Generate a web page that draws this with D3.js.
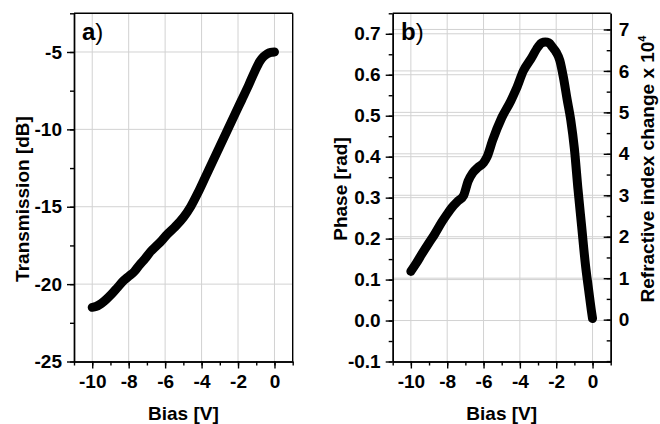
<!DOCTYPE html>
<html lang="en">
<head>
    <meta charset="UTF-8">
    <title>Bias sweep: transmission and phase</title>
    <script src="https://d3js.org/d3.v7.min.js"></script>
    <style>
        body {
            margin: 0;
            background: #ffffff;
        }
        svg text {
            font-family: "Liberation Sans", Arial, sans-serif;
            font-weight: bold;
            fill: #000;
        }
        .tick text {
            font-size: 19px;
        }
        .axis path, .axis line {
            stroke: #000;
            stroke-width: 1.4px;
        }
        .grid line {
            stroke: #d2d2d2;
            stroke-width: 1px;
        }
        .frame {
            stroke: #000;
            stroke-width: 1.4px;
        }
        .curve {
            fill: none;
            stroke: #000;
            stroke-width: 9px;
            stroke-linejoin: round;
            stroke-linecap: round;
        }
    </style>
</head>
<body>
    <svg width="660" height="424"></svg>
    <script>
        // panel a: transmission vs bias
        let biasA = [-10, -9.8, -9.5, -9.2, -8.9, -8.6, -8.3, -8.0, -7.7, -7.4, -7.1, -6.8, -6.5, -6.2, -5.9,
            -5.5, -5.0, -4.6, -4.2, -3.8, -3.4, -3.0, -2.6, -2.2, -1.8, -1.4, -1.1, -0.8, -0.6, -0.4, -0.2, 0];
        let transA = [-21.5, -21.45, -21.25, -20.95, -20.6, -20.2, -19.8, -19.5, -19.2, -18.75, -18.35, -17.9, -17.55, -17.2, -16.8,
            -16.35, -15.7, -15.0, -14.1, -13.1, -12.1, -11.1, -10.1, -9.1, -8.1, -7.1, -6.3, -5.6, -5.3, -5.12, -5.03, -5.0];

        // panel b: phase vs bias
        let biasB = [-10, -9.7, -9.4, -9.0, -8.7, -8.3, -8.0, -7.7, -7.4, -7.1, -6.85, -6.6, -6.3, -6.0, -5.8, -5.5,
            -5.0, -4.5, -4.2, -3.8, -3.4, -3.0, -2.8, -2.6, -2.4, -2.2, -2.0, -1.8, -1.6, -1.4, -1.2, -1.0,
            -0.8, -0.6, -0.4, -0.2, -0.05, 0];
        let phaseB = [0.12, 0.14, 0.162, 0.19, 0.21, 0.24, 0.26, 0.278, 0.292, 0.305, 0.34, 0.36, 0.374, 0.385, 0.40, 0.44,
            0.495, 0.536, 0.565, 0.61, 0.638, 0.668, 0.678, 0.68, 0.678, 0.667, 0.655, 0.635, 0.593, 0.54, 0.49, 0.42,
            0.32, 0.23, 0.14, 0.07, 0.02, 0.005];

        let xTicks = [-10, -8, -6, -4, -2, 0];
        let xMinor = d3.range(-11, 1.5, 1);
        let yTicksA = [-25, -20, -15, -10, -5];
        let yMinorA = d3.range(-25, -2.4, 2.5);
        let yTicksB = [-0.1, 0.0, 0.1, 0.2, 0.3, 0.4, 0.5, 0.6, 0.7];
        let yMinorB = d3.range(-0.1, 0.751, 0.05);
        let rTicksB = [0, 1, 2, 3, 4, 5, 6, 7];
        let rMinorB = d3.range(-1, 7.4, 0.5);

        let svg = d3.select("svg");
        let plotTop = 13.3, plotBottom = 361.5;

        function panel(left, right) {
            let x = d3.scaleLinear().domain([-11, 1]).range([left, right]);
            return x;
        }

        function drawCurve(x, y, xs, ys) {
            let pts = xs.map((v, i) => [v, ys[i]]);
            let line = d3.line().x(d => x(d[0])).y(d => y(d[1])).curve(d3.curveMonotoneX);
            svg.append("path").attr("class", "curve").attr("d", line(pts));
        }

        function bottomAxis(x) {
            svg.append("g").attr("class", "axis")
                .attr("transform", `translate(0,${plotBottom})`)
                .call(d3.axisBottom(x).tickValues(xMinor).tickSize(4).tickSizeOuter(0).tickFormat(""));
            svg.append("g").attr("class", "axis")
                .attr("transform", `translate(0,${plotBottom})`)
                .call(d3.axisBottom(x).tickValues(xTicks).tickSize(7).tickSizeOuter(0).tickPadding(6)
                    .tickFormat(d => d));
        }

        function verticalGrid(x) {
            svg.append("g").attr("class", "grid")
                .selectAll("line").data(xTicks).enter().append("line")
                .attr("x1", d => x(d)).attr("x2", d => x(d))
                .attr("y1", plotTop).attr("y2", plotBottom);
        }

        function horizontalGrid(x, y, ticks) {
            svg.append("g").attr("class", "grid")
                .selectAll("line").data(ticks).enter().append("line")
                .attr("x1", x.range()[0]).attr("x2", x.range()[1])
                .attr("y1", d => y(d)).attr("y2", d => y(d));
        }

        // ---------- panel a ----------
        let xA = panel(74, 292.7);
        let yA = d3.scaleLinear().domain([-25, -2.5]).range([plotBottom, plotTop]);

        verticalGrid(xA);
        horizontalGrid(xA, yA, [-20, -15, -10, -5]);

        svg.append("line").attr("class", "frame")
            .attr("x1", 74).attr("x2", 292.7).attr("y1", plotTop).attr("y2", plotTop);
        svg.append("line").attr("class", "frame")
            .attr("x1", 292.7).attr("x2", 292.7).attr("y1", plotTop).attr("y2", plotBottom);

        drawCurve(xA, yA, biasA, transA);

        svg.append("g").attr("class", "axis")
            .attr("transform", "translate(74,0)")
            .call(d3.axisLeft(yA).tickValues(yMinorA).tickSize(4).tickSizeOuter(0).tickFormat(""));
        svg.append("g").attr("class", "axis")
            .attr("transform", "translate(74,0)")
            .call(d3.axisLeft(yA).tickValues(yTicksA).tickSize(7).tickSizeOuter(0).tickPadding(5)
                .tickFormat(d => d));
        bottomAxis(xA);

        svg.append("text")
            .attr("transform", "translate(22,199) rotate(-90)")
            .attr("text-anchor", "middle").attr("dy", "0.35em")
            .style("font-size", "19px")
            .text("Transmission [dB]");

        svg.append("text")
            .attr("x", (74 + 292.7) / 2).attr("y", 420)
            .attr("text-anchor", "middle")
            .style("font-size", "19px")
            .text("Bias [V]");

        let labA = svg.append("text").attr("x", 82).attr("y", 40).style("font-size", "24px");
        labA.append("tspan").text("a");
        labA.append("tspan").style("font-weight", "normal").text(")");

        // ---------- panel b ----------
        let xB = panel(392.7, 610.7);
        let yB = d3.scaleLinear().domain([-0.1, 0.75]).range([plotBottom, plotTop]);
        let rB = d3.scaleLinear().domain([-1.01, 7.39]).range([plotBottom, plotTop]);

        verticalGrid(xB);
        horizontalGrid(xB, yB, [0, 0.1, 0.2, 0.3, 0.4, 0.5, 0.6, 0.7]);
        horizontalGrid(xB, rB, rTicksB.slice(1));

        svg.append("line").attr("class", "frame")
            .attr("x1", 392.7).attr("x2", 610.7).attr("y1", plotTop).attr("y2", plotTop);

        drawCurve(xB, yB, biasB, phaseB);

        svg.append("g").attr("class", "axis")
            .attr("transform", "translate(392.7,0)")
            .call(d3.axisLeft(yB).tickValues(yMinorB).tickSize(4).tickSizeOuter(0).tickFormat(""));
        svg.append("g").attr("class", "axis")
            .attr("transform", "translate(392.7,0)")
            .call(d3.axisLeft(yB).tickValues(yTicksB).tickSize(7).tickSizeOuter(0).tickPadding(5)
                .tickFormat(d => d.toFixed(1)));

        // right axis, ticks point inward
        svg.append("g").attr("class", "axis")
            .attr("transform", "translate(610.7,0)")
            .call(d3.axisRight(rB).tickValues(rMinorB).tickSize(-4).tickSizeOuter(0).tickFormat(""));
        let rAxis = svg.append("g").attr("class", "axis")
            .attr("transform", "translate(610.7,0)")
            .call(d3.axisRight(rB).tickValues(rTicksB).tickSize(-7).tickSizeOuter(0).tickFormat(d => d));
        rAxis.selectAll(".tick text").attr("x", 8);
        bottomAxis(xB);

        svg.append("text")
            .attr("transform", "translate(340,189) rotate(-90)")
            .attr("text-anchor", "middle").attr("dy", "0.35em")
            .style("font-size", "19px")
            .text("Phase [rad]");

        let rLabel = svg.append("text")
            .attr("transform", "translate(647,169) rotate(-90)")
            .attr("text-anchor", "middle").attr("dy", "0.35em")
            .style("font-size", "19px");
        rLabel.append("tspan").text("Refractive index change x 10");
        rLabel.append("tspan").attr("dy", "-0.7em").style("font-size", "11px").text("4");

        svg.append("text")
            .attr("x", (392.7 + 610.7) / 2).attr("y", 420)
            .attr("text-anchor", "middle")
            .style("font-size", "19px")
            .text("Bias [V]");

        let labB = svg.append("text").attr("x", 401).attr("y", 40).style("font-size", "24px");
        labB.append("tspan").text("b");
        labB.append("tspan").style("font-weight", "normal").text(")");
    </script>
</body>
</html>
